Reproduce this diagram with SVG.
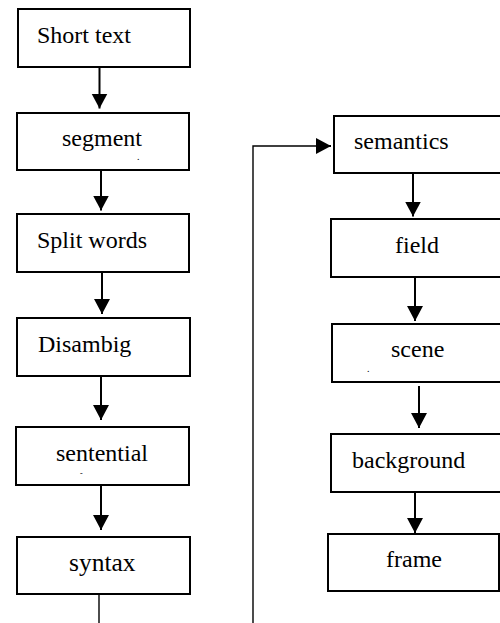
<svg xmlns="http://www.w3.org/2000/svg" width="500" height="623" viewBox="0 0 500 623">
<defs>
<style>
.box{fill:#fff;stroke:#000;stroke-width:2}
.t{font-family:"Liberation Serif","Times New Roman",serif;font-size:24px;fill:#000}
.c{stroke:#000;stroke-width:2;fill:none}
.thin{stroke:#000;stroke-width:1.4;fill:none}
</style>
<marker id="ah" markerUnits="userSpaceOnUse" markerWidth="17" markerHeight="17" refX="15" refY="8" orient="auto">
<path d="M0,0 L15,8 L0,16 z" fill="#000"/>
</marker>
</defs>
<rect width="500" height="623" fill="#fff"/>
<g id="connectors">
<line class="c" x1="99.5" y1="67" x2="99.5" y2="108.5" marker-end="url(#ah)"/>
<line class="c" x1="101" y1="170" x2="101" y2="210.5" marker-end="url(#ah)"/>
<line class="c" x1="102" y1="272" x2="102" y2="314" marker-end="url(#ah)"/>
<line class="c" x1="101" y1="377" x2="101" y2="420" marker-end="url(#ah)"/>
<line class="c" x1="101" y1="485" x2="101" y2="530" marker-end="url(#ah)"/>
<line class="thin" x1="99" y1="594" x2="99" y2="623"/>
<polyline class="thin" points="253,623 253,146 320,146"/>
<line class="c" x1="318" y1="146" x2="331" y2="146" marker-end="url(#ah)"/>
<line class="c" x1="413" y1="173" x2="413" y2="216.5" marker-end="url(#ah)"/>
<line class="c" x1="415" y1="277" x2="415" y2="321" marker-end="url(#ah)"/>
<line class="c" x1="419" y1="386" x2="419" y2="428" marker-end="url(#ah)"/>
<line class="c" x1="415" y1="492" x2="415" y2="533" marker-end="url(#ah)"/>
</g>
<g id="short-text"><rect class="box" x="18" y="9" width="172" height="58"/><text class="t" x="37" y="43">Short text</text></g>
<g id="segment"><rect class="box" x="17" y="113" width="172" height="57"/><text class="t" x="62" y="146">segment</text><text class="t" x="137" y="160" style="font-size:10px">.</text></g>
<g id="split-words"><rect class="box" x="17" y="214" width="172" height="58"/><text class="t" x="37" y="248">Split words</text></g>
<g id="disambig"><rect class="box" x="17" y="318" width="173" height="58"/><text class="t" x="38" y="352">Disambig</text></g>
<g id="sentential"><rect class="box" x="16" y="427" width="173" height="58"/><text class="t" x="56" y="461">sentential</text><text class="t" x="80" y="476" style="font-size:8px">-</text></g>
<g id="syntax"><rect class="box" x="17" y="537" width="173" height="57"/><text class="t" x="69" y="571" style="font-size:25.5px">syntax</text></g>
<g id="semantics"><rect class="box" x="334" y="116" width="175" height="57"/><text class="t" x="354" y="149">semantics</text></g>
<g id="field"><rect class="box" x="331" y="219" width="178" height="58"/><text class="t" x="395" y="253">field</text></g>
<g id="scene"><rect class="box" x="332" y="324" width="177" height="58"/><text class="t" x="391" y="357">scene</text><text class="t" x="367" y="372" style="font-size:10px">.</text></g>
<g id="background"><rect class="box" x="331" y="434" width="178" height="58"/><text class="t" x="352" y="468">background</text></g>
<g id="frame"><rect class="box" x="328" y="534" width="171" height="57"/><text class="t" x="386" y="567">frame</text></g>
</svg>
